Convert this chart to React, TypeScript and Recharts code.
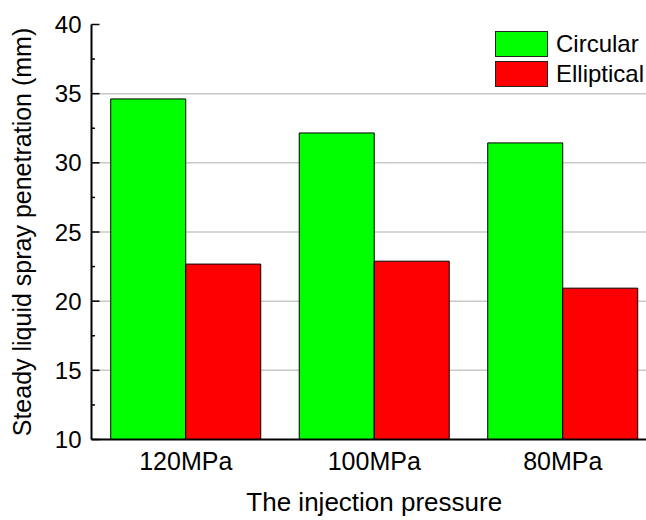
import { Bar, BarChart, CartesianGrid, XAxis, YAxis } from "recharts"

const pressures = ["120MPa", "100MPa", "80MPa"]
const circular = [34.62, 32.16, 31.44]
const elliptical = [22.68, 22.89, 20.94]
const yTicks = [10, 12.5, 15, 17.5, 20, 22.5, 25, 27.5, 30, 32.5, 35, 37.5, 40]
const gridValues = [15, 20, 25, 30, 35]
const seriesNames = ["Circular", "Elliptical"]
const seriesColors = ["#00ff00", "#ff0000"]

const data = pressures.map((p, i) => ({
  name: p,
  circular: circular[i],
  elliptical: elliptical[i],
}))

const FONT = "'Liberation Sans', Arial, sans-serif"

const YTick = (props: any) => {
  const { x, y, payload } = props
  const major = payload.value % 5 === 0
  const ax = x + 10
  return (
    <g>
      <line x1={ax} x2={ax + (major ? 8 : 3.5)} y1={y} y2={y} stroke="#000" strokeWidth={1.5} />
      {major && (
        <text x={x} y={y} textAnchor="end" dominantBaseline="central" fontSize={24} fontFamily={FONT} fill="#000">
          {payload.value}
        </text>
      )}
    </g>
  )
}

const XTick = (props: any) => {
  const { x, y, payload } = props
  return (
    <text x={x} y={y} dy="0.71em" textAnchor="middle" fontSize={25} fontFamily={FONT} fill="#000">
      {payload.value}
    </text>
  )
}

export default function App() {
  return (
    <div style={{ position: "absolute", left: 0, top: 0, width: 646, height: 520, overflow: "hidden", background: "#fff" }}>
      <BarChart
        width={700}
        height={520}
        data={data}
        margin={{ top: 24.5, right: 43, bottom: 0, left: 0 }}
        barCategoryGap="10.2%"
        barGap={0}
      >
        <CartesianGrid vertical={false} horizontalValues={gridValues} stroke="#c8c8c8" strokeWidth={1.5} />
        <XAxis
          dataKey="name"
          height={80.5}
          axisLine={{ stroke: "#000", strokeWidth: 2 }}
          tickLine={false}
          tickSize={0}
          tickMargin={13}
          tick={<XTick />}
          label={{ value: "The injection pressure", position: "insideBottom", offset: 9, fontSize: 26, fontFamily: FONT, fill: "#000" }}
        />
        <XAxis dataKey="name" xAxisId="top" orientation="top" height={0} axisLine={{ stroke: "#000", strokeWidth: 2 }} tick={false} tickLine={false} />
        <YAxis
          domain={[10, 40]}
          ticks={yTicks}
          width={91.5}
          interval={0}
          axisLine={{ stroke: "#000", strokeWidth: 2 }}
          tickLine={false}
          tickSize={0}
          tickMargin={10}
          tick={<YTick />}
          allowDataOverflow
          label={{
            content: (p: any) => {
              const vb = p.viewBox
              const cy = vb.y + vb.height / 2
              return (
                <text x={22} y={cy} transform={`rotate(-90, 22, ${cy})`} textAnchor="middle" dominantBaseline="central" fontSize={25} fontFamily={FONT} fill="#000">
                  Steady liquid spray penetration (mm)
                </text>
              )
            },
          }}
        />
        <Bar dataKey="circular" name={seriesNames[0]} fill={seriesColors[0]} stroke="#000" strokeWidth={1} isAnimationActive={false} />
        <Bar dataKey="elliptical" name={seriesNames[1]} fill={seriesColors[1]} stroke="#000" strokeWidth={1} isAnimationActive={false} />
      </BarChart>
      <div style={{ position: "absolute", top: 29, left: 495, fontFamily: FONT, fontSize: 24, color: "#000" }}>
        {seriesNames.map((n, i) => (
          <div key={n} style={{ display: "flex", alignItems: "center", height: 30 }}>
            <div style={{ width: 51, height: 24, background: seriesColors[i], border: "1px solid #222", marginRight: 8 }} />
            <span>{n}</span>
          </div>
        ))}
      </div>
    </div>
  )
}
